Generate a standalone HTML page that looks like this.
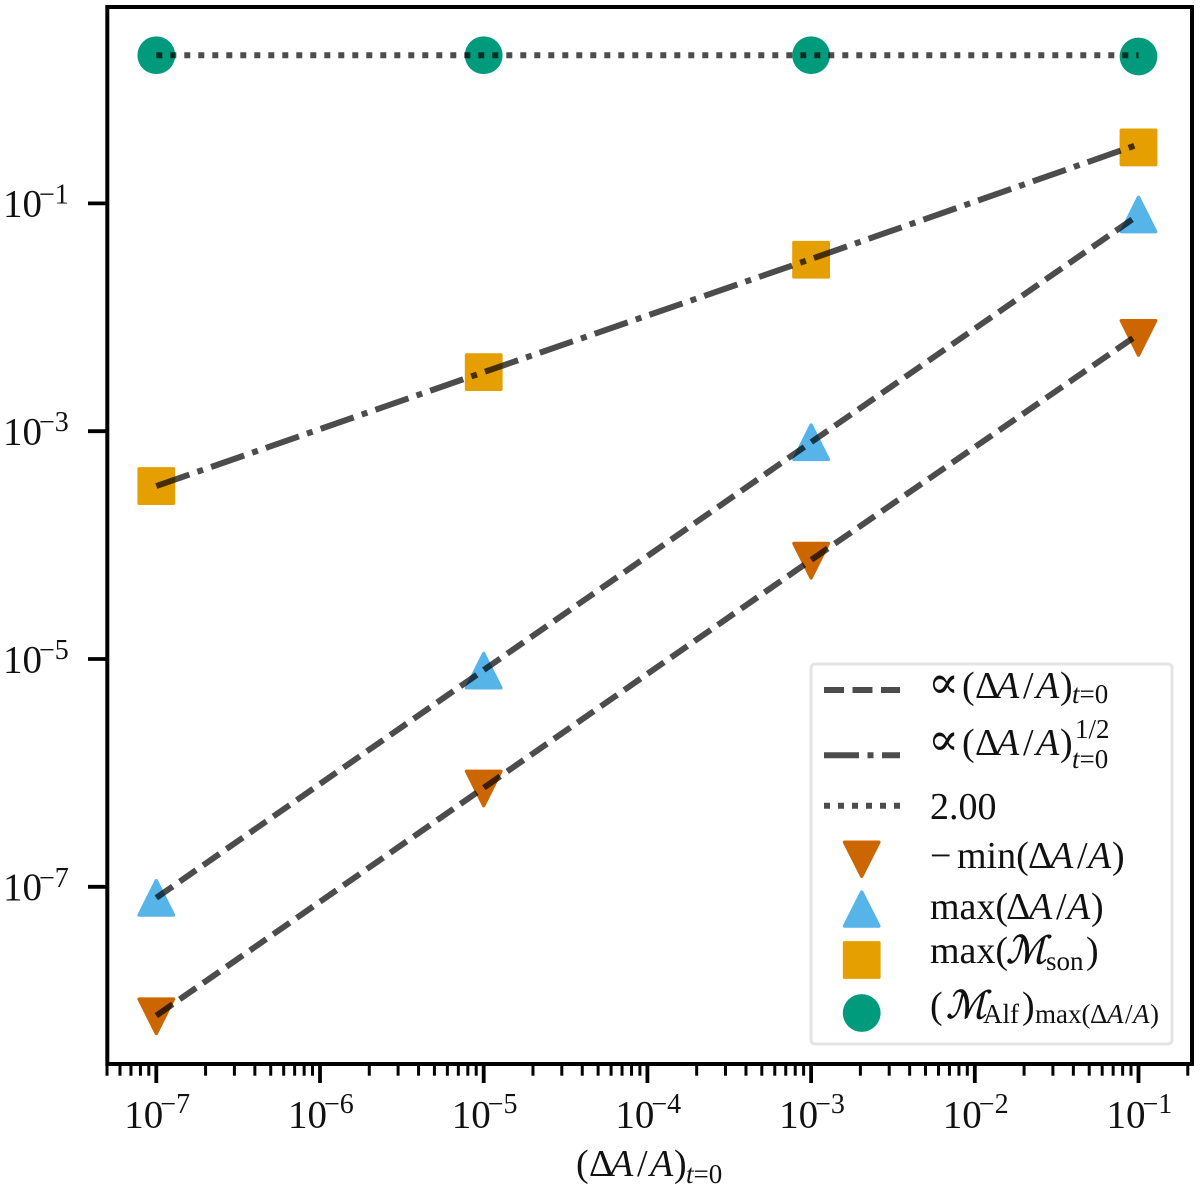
<!DOCTYPE html>
<html lang="en">
<head>
<meta charset="utf-8">
<title>Scaling with initial amplitude</title>
<style>
html,body{margin:0;padding:0;background:#fff;}
svg{display:block;}
text{font-family:"Liberation Serif","DejaVu Serif",serif;fill:#111;}
.it{font-style:italic;}
.script{font-style:italic;stroke:#111;stroke-width:0.7px;}
</style>
</head>
<body>
<svg id="chart" xmlns="http://www.w3.org/2000/svg" width="1200" height="1188" viewBox="0 0 1200 1188">
  <g id="marks"></g>
  <g id="axes"></g>

  <rect x="811" y="664" width="361" height="380" rx="4" fill="#fff" fill-opacity="0.8" stroke="#e4e4e4" stroke-width="3"/>

  <line x1="824" x2="900" y1="690" y2="690" stroke="#000" stroke-opacity="0.7" stroke-width="6" stroke-dasharray="20 8.5"/>
  <line x1="824" x2="900" y1="755.3" y2="755.3" stroke="#000" stroke-opacity="0.7" stroke-width="6" stroke-dasharray="35 8.5 6 8.5"/>
  <line x1="824" x2="900" y1="805.7" y2="805.7" stroke="#000" stroke-opacity="0.7" stroke-width="6" stroke-dasharray="6 8"/>
  <path d="M844.5 842.2H878.9L861.7 876.2Z" fill="#cc6600" stroke="#cc6600" stroke-width="3.4" stroke-linejoin="round"/>
  <path d="M844.5 926H878.9L861.7 892Z" fill="#56b4e9" stroke="#56b4e9" stroke-width="3.4" stroke-linejoin="round"/>
  <rect x="844.5" y="942.8" width="34.4" height="34.4" fill="#e69f00" stroke="#e69f00" stroke-width="3.4" stroke-linejoin="round"/>
  <circle cx="861.7" cy="1013" r="18.9" fill="#009b7d"/>

  <g font-size="38">
    <text y="698"><tspan x="928" font-size="46">∝</tspan><tspan x="962">(</tspan><tspan x="975">Δ</tspan><tspan x="996" class="it">A</tspan><tspan x="1023">/</tspan><tspan x="1036" class="it">A</tspan><tspan x="1060">)</tspan><tspan x="1072" y="703" font-size="27" class="it">t</tspan><tspan font-size="27" y="703">=0</tspan></text>
    <text y="755"><tspan x="928" font-size="46">∝</tspan><tspan x="962">(</tspan><tspan x="975">Δ</tspan><tspan x="996" class="it">A</tspan><tspan x="1023">/</tspan><tspan x="1036" class="it">A</tspan><tspan x="1060">)</tspan><tspan x="1075" y="738" font-size="27">1/2</tspan><tspan x="1072" y="768" font-size="27" class="it">t</tspan><tspan font-size="27" y="768">=0</tspan></text>
    <text x="930" y="819">2.00</text>
    <text y="868"><tspan x="930">−</tspan><tspan x="957">min(</tspan><tspan x="1028">Δ</tspan><tspan x="1050" class="it">A</tspan><tspan x="1077">/</tspan><tspan x="1088" class="it">A</tspan><tspan x="1112">)</tspan></text>
    <text y="919"><tspan x="930">max(</tspan><tspan x="1006">Δ</tspan><tspan x="1029" class="it">A</tspan><tspan x="1056">/</tspan><tspan x="1067" class="it">A</tspan><tspan x="1091">)</tspan></text>
    <text y="963"><tspan x="930">max(</tspan><tspan x="1006" class="script">ℳ</tspan><tspan x="1046" y="970" font-size="27">son</tspan><tspan x="1086" y="963">)</tspan></text>
    <text y="1018"><tspan x="930">(</tspan><tspan x="946" class="script">ℳ</tspan><tspan x="983" y="1023" font-size="27">Alf</tspan><tspan x="1022" y="1018">)</tspan><tspan x="1035" y="1023" font-size="27">max(</tspan><tspan x="1090" y="1023" font-size="27">Δ</tspan><tspan x="1107" y="1023" font-size="27" class="it">A</tspan><tspan x="1125" y="1023" font-size="27">/</tspan><tspan x="1133" y="1023" font-size="27" class="it">A</tspan><tspan x="1150" y="1023" font-size="27">)</tspan></text>
  </g>

  <text y="1176" font-size="38"><tspan x="576">(</tspan><tspan x="589">Δ</tspan><tspan x="610" class="it">A</tspan><tspan x="637">/</tspan><tspan x="650" class="it">A</tspan><tspan x="674">)</tspan><tspan x="686" y="1183" font-size="27" class="it">t</tspan><tspan y="1183" font-size="27">=0</tspan></text>
</svg>
<script>
// Data
const xValues = [1e-7, 1e-5, 1e-3, 1e-1];
const linearLowerFit = [7.4e-9, 7.4e-7, 7.4e-5, 7.1e-3];
const linearUpperFit = [8.0e-8, 8.0e-6, 8.0e-4, 7.9e-2];
const sqrtFit = [3.3e-4, 3.3e-3, 3.25e-2, 0.33];
const constantFit = [2.0, 2.0, 2.0, 2.0];
const minAmplitude = [7.3e-9, 7.3e-7, 7.3e-5, 6.6e-3];
const maxAmplitude = [8.0e-8, 7.9e-6, 8.0e-4, 8.0e-2];
const maxSonic = [3.3e-4, 3.3e-3, 3.2e-2, 0.31];
const alfvenAtMax = [2.0, 2.0, 2.0, 1.95];
const xTickExponents = [-7, -6, -5, -4, -3, -2, -1];
const xTickLabels = ["−7", "−6", "−5", "−4", "−3", "−2", "−1"];
const minorMultipliers = [2, 3, 4, 5, 6, 7, 8, 9];
const yTickExponents = [-1, -3, -5, -7];
const yTickLabels = ["−1", "−3", "−5", "−7"];

// Axis functions
const X0 = 156.3, XD = 163.7, Y0 = 203.4, YD = 113.9;
const L = 107.3, R = 1192, T = 7, B = 1064;
function xp(v) { return X0 + (Math.log10(v) + 7) * XD; }
function yp(v) { return Y0 + (-1 - Math.log10(v)) * YD; }

const NS = "http://www.w3.org/2000/svg";
const marks = document.getElementById("marks");
const axes = document.getElementById("axes");
function make(tag, attrs, parent) {
  const el = document.createElementNS(NS, tag);
  for (const k in attrs) el.setAttribute(k, attrs[k]);
  parent.appendChild(el);
  return el;
}

// Markers
const HALF = 17.2, EDGE = 3.4;
function drawMarkers(values, color, kind) {
  values.forEach(function (v, i) {
    const cx = xp(xValues[i]), cy = yp(v);
    let el;
    if (kind === "circle") {
      el = make("circle", { cx: cx, cy: cy, r: HALF + EDGE / 2, fill: color }, marks);
    } else if (kind === "square") {
      el = make("rect", { x: cx - HALF, y: cy - HALF, width: 2 * HALF, height: 2 * HALF, fill: color, stroke: color, "stroke-width": EDGE, "stroke-linejoin": "round" }, marks);
    } else {
      const s = kind === "up" ? 1 : -1;
      const d = "M" + (cx - HALF) + " " + (cy + s * HALF) + "H" + (cx + HALF) + "L" + cx + " " + (cy - s * HALF) + "Z";
      el = make("path", { d: d, fill: color, stroke: color, "stroke-width": EDGE, "stroke-linejoin": "round" }, marks);
    }
    
    
  });
}
drawMarkers(minAmplitude, "#cc6600", "down");
drawMarkers(maxAmplitude, "#56b4e9", "up");
drawMarkers(maxSonic, "#e69f00", "square");
drawMarkers(alfvenAtMax, "#009b7d", "circle");

// Fit lines
function drawLine(values, dash, width, name) {
  const pts = values.map(function (v, i) { return xp(xValues[i]) + "," + yp(v); }).join(" ");
  const el = make("polyline", { points: pts, fill: "none", stroke: "#000", "stroke-opacity": 0.7, "stroke-width": width, "stroke-dasharray": dash }, marks);
  
  
}
drawLine(linearLowerFit, "20 8.5", 6, "fit-line-linear-lower");
drawLine(linearUpperFit, "20 8.5", 6, "fit-line-linear-upper");
drawLine(sqrtFit, "35 8.5 6 8.5", 6, "fit-line-sqrt");
drawLine(constantFit, "6 8", 6, "fit-line-constant");

// X ticks
xTickExponents.forEach(function (e, i) {
  const x = xp(Math.pow(10, e));
  const tick = make("line", { x1: x, x2: x, y1: B, y2: 1083, stroke: "#000", "stroke-width": 3.8 }, axes);
  
  
  const label = make("text", { x: x - 32, y: 1127.5, "font-size": 39 }, axes);
  
  
  label.textContent = "10";
  const sup = make("tspan", { x: x + 4, y: 1113, "font-size": 28 }, label);
  sup.textContent = xTickLabels[i];
});
for (let e = -8; e <= -1; e++) {
  minorMultipliers.forEach(function (m) {
    const x = xp(m * Math.pow(10, e));
    if (x < L - 1 || x > R - 1) return;
    const tick = make("line", { x1: x, x2: x, y1: B, y2: 1075.7, stroke: "#000", "stroke-width": 3 }, axes);
    
    
  });
}

// Y ticks
yTickExponents.forEach(function (e, i) {
  const y = yp(Math.pow(10, e));
  const tick = make("line", { x1: 88, x2: L, y1: y, y2: y, stroke: "#000", "stroke-width": 3.8 }, axes);
  
  
  const label = make("text", { x: 3, y: y + 13.3, "font-size": 39 }, axes);
  
  
  label.textContent = "10";
  const sup = make("tspan", { x: 39, y: y, "font-size": 28 }, label);
  sup.textContent = yTickLabels[i];
});

// Spines
const frame = make("rect", { x: L, y: T, width: R - L, height: B - T, fill: "none", stroke: "#000", "stroke-width": 4 }, axes);


</script>
</body>
</html>
